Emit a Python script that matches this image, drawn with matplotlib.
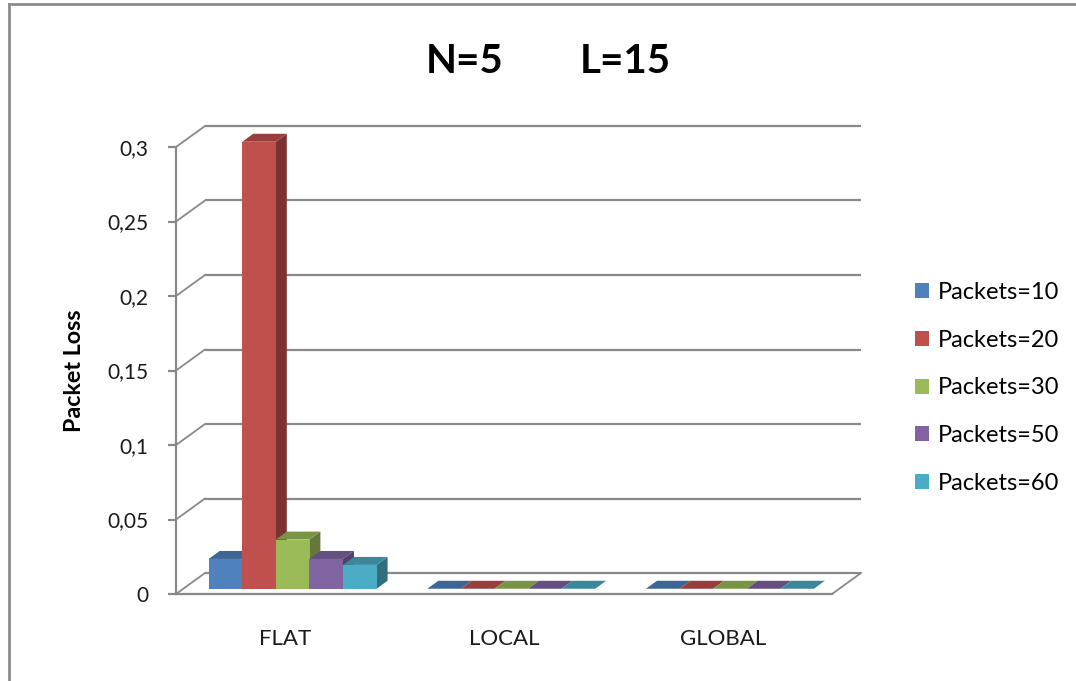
import matplotlib
matplotlib.use("Agg")
import matplotlib.pyplot as plt
from matplotlib.patches import Polygon, Patch
from matplotlib.lines import Line2D
import numpy as np

# ---- data -------------------------------------------------------------
categories = ["FLAT", "LOCAL", "GLOBAL"]
series_labels = ["Packets=10", "Packets=20", "Packets=30", "Packets=50", "Packets=60"]
loss_packets_10 = [0.02, 0.0, 0.0]
loss_packets_20 = [0.30, 0.0, 0.0]
loss_packets_30 = [0.033, 0.0, 0.0]
loss_packets_50 = [0.02, 0.0, 0.0]
loss_packets_60 = [0.016, 0.0, 0.0]
y_ticks = [0, 0.05, 0.10, 0.15, 0.20, 0.25, 0.30]
y_tick_labels = ["0", "0,05", "0,1", "0,15", "0,2", "0,25", "0,3"]

series_values = [loss_packets_10, loss_packets_20, loss_packets_30,
                 loss_packets_50, loss_packets_60]
front_colors = ["#4F81BD", "#C0504D", "#9BBB59", "#8064A2", "#4BACC6"]

FONT = "Lato"
GRID = "#898989"
W, H, DPI = 1076, 681, 100

plt.rcParams["font.family"] = [FONT, "DejaVu Sans"]


def shade(hex_color, k):
    rgb = np.array(matplotlib.colors.to_rgb(hex_color))
    return tuple(rgb * k)


fig = plt.figure(figsize=(W / DPI, H / DPI), dpi=DPI)
fig.patch.set_facecolor("white")

# front plane of the 3-D box, in pixels
left_px, right_px, base_px, top_px = 176, 832, 594, 147
ax = fig.add_axes([left_px / W, (H - base_px) / H,
                   (right_px - left_px) / W, (base_px - top_px) / H])
ax.set_xlim(-0.5, len(categories) - 0.5)
ax.set_ylim(0, 0.3)
ax.set_facecolor("none")

# oblique depth vector (pixels) converted to data units
depth_px = np.array([29.0, 21.0])
inv = ax.transData.inverted()
o = inv.transform((0, 0))
d = inv.transform(depth_px) - o
ddx, ddy = d

x_lo, x_hi = ax.get_xlim()

# back wall gridlines and left wall diagonals
for v in y_ticks:
    ax.plot([x_lo + ddx, x_hi + ddx], [v + ddy, v + ddy], color=GRID,
            lw=1.6, clip_on=False, zorder=1, solid_capstyle="butt")
    ax.plot([x_lo, x_lo + ddx], [v, v + ddy], color=GRID,
            lw=1.3, clip_on=False, zorder=1)
# right edge of the floor
ax.plot([x_hi, x_hi + ddx], [0, ddy], color=GRID, lw=1.3, clip_on=False, zorder=1)

# axes spines / ticks
for s in ["top", "right"]:
    ax.spines[s].set_visible(False)
for s in ["left", "bottom"]:
    ax.spines[s].set_color(GRID)
    ax.spines[s].set_linewidth(1.6)
ax.set_yticks(y_ticks)
ax.set_yticklabels(y_tick_labels)
ax.tick_params(axis="y", length=6, width=1.6, color=GRID, pad=14,
               labelsize=15, labelcolor="#1a1a1a")
ax.set_xticks(range(len(categories)))
ax.set_xticklabels(categories)
ax.tick_params(axis="x", length=0, pad=25, labelsize=16, labelcolor="#1a1a1a")

# 3-D columns
n = len(series_values)
group_w = 0.768
bar_w = group_w / n
d_front, d_back = 0.25, 0.63
for i in range(len(categories)):
    for j, vals in enumerate(series_values):
        v = vals[i]
        x0 = i - group_w / 2 + j * bar_w
        x1 = x0 + bar_w
        fx, fy = d_front * ddx, d_front * ddy
        bx, by = d_back * ddx, d_back * ddy
        c = front_colors[j]
        side = Polygon([(x1 + fx, fy), (x1 + bx, by), (x1 + bx, v + by), (x1 + fx, v + fy)],
                       closed=True, fc=shade(c, 0.64), ec="none", clip_on=False, zorder=3)
        top = Polygon([(x0 + fx, v + fy), (x1 + fx, v + fy), (x1 + bx, v + by), (x0 + bx, v + by)],
                      closed=True, fc=shade(c, 0.79), ec="none", clip_on=False, zorder=3)
        front = Polygon([(x0 + fx, fy), (x1 + fx, fy), (x1 + fx, v + fy), (x0 + fx, v + fy)],
                        closed=True, fc=c, ec="none", clip_on=False, zorder=3)
        for p in (side, top, front):
            ax.add_patch(p)

# title (two parts, wide gap between them)
fig.text(465 / W, 1 - 73 / H, "N=5", ha="center", va="baseline",
         fontsize=29, fontweight="bold", color="black")
fig.text(625 / W, 1 - 73 / H, "L=15", ha="center", va="baseline",
         fontsize=29, fontweight="bold", color="black")
ax.set_ylabel("Packet Loss", fontsize=16.8, fontweight="bold", labelpad=16)

# legend
handles = [Patch(facecolor=c, edgecolor="none") for c in front_colors]
fig.legend(handles, series_labels, loc="center left",
           bbox_to_anchor=(894 / W, 1 - 388 / H), frameon=False,
           fontsize=17, handlelength=0.6, handleheight=0.6,
           handletextpad=0.35, labelspacing=1.13)

# chart-area border
fig.add_artist(Line2D([9 / W, 9 / W], [0, 1 - 4 / H], transform=fig.transFigure,
                      color="#8c8c8c", lw=2))
fig.add_artist(Line2D([9 / W, 1], [1 - 4 / H, 1 - 4 / H], transform=fig.transFigure,
                      color="#8c8c8c", lw=2))

fig.savefig("out.png", dpi=DPI, facecolor="white")
